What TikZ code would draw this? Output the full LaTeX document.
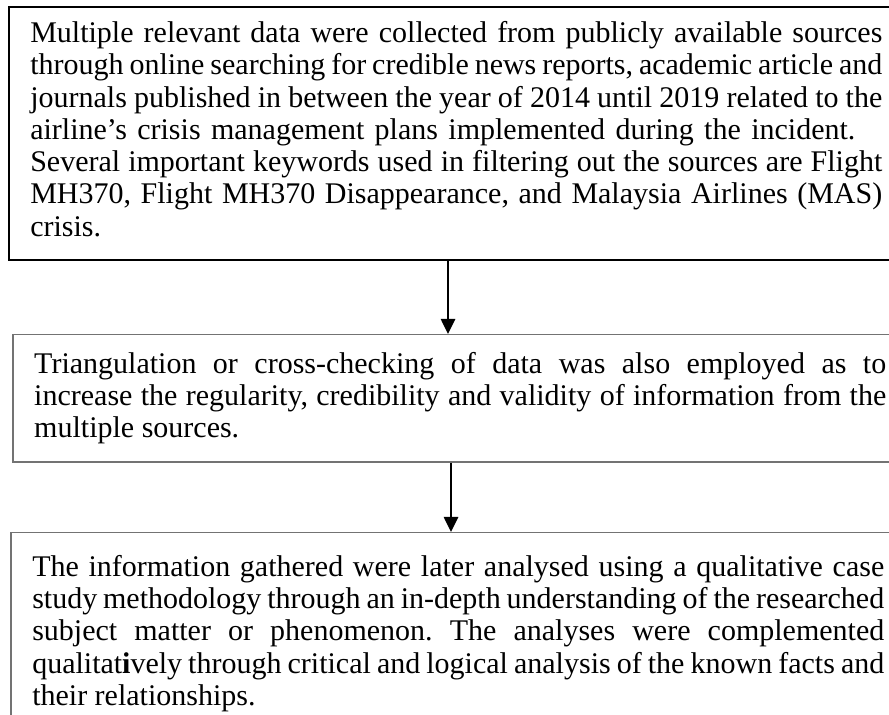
\documentclass[tikz,border=0pt]{standalone}
\usepackage{fontspec}
\setmainfont{Liberation Serif}
\usetikzlibrary{positioning,arrows.meta}
\setlength{\parindent}{0pt}
\frenchspacing
\definecolor{boxgray}{gray}{0.45}
\newcommand{\boxfoot}[1]{\rule[-#1]{0pt}{#1}}
\tikzset{stepbox/.style={rectangle, draw, text width=426pt, align=justify, inner xsep=10.75pt, anchor=north west, font=\fontsize{15}{16.15}\selectfont
}}
\tikzset{steparrow/.style={-{Triangle[width=7pt,length=7.5pt]}, line width=1.3pt
}}

\begin{document}
\begin{tikzpicture}
	\useasboundingbox (0,0) rectangle (444.5pt,-357.5pt);
	\clip (0,0) rectangle (444.5pt,-357.5pt);
	% data collection
	\node[stepbox, draw=black, line width=0.8pt, inner ysep=7.25pt] (collect) at (4pt,-3pt) {Multiple relevant data were collected from publicly available sources\linebreak through online searching for credible news reports, academic article and\linebreak journals published in between the year of 2014 until 2019 related to the\linebreak airline’s crisis management plans implemented during the incident.\hspace*{13.5pt}\linebreak Several important keywords used in filtering out the sources are Flight\linebreak MH370, Flight MH370 Disappearance, and Malaysia Airlines (MAS)\linebreak crisis.\boxfoot{4.5pt}};
	% triangulation
	\node[stepbox, draw=boxgray, line width=0.75pt, inner ysep=8.75pt] (check) at (6pt,-167pt) {Triangulation or cross-checking of data was also employed as to\linebreak increase the regularity, credibility and validity of information from the\linebreak multiple sources.};
	% analysis
	\node[stepbox, draw=boxgray, line width=0.75pt, inner ysep=11.25pt] (analyse) at (5pt,-266pt) {The information gathered were later analysed using a qualitative case\linebreak study methodology through an in-depth understanding of the researched\linebreak subject matter or phenomenon. The analyses were complemented\linebreak qualitat\textbf{i}vely through critical and logical analysis of the known facts and\linebreak their relationships.};
	\coordinate (arrowA) at (224pt,0);
	\coordinate (arrowB) at (225.5pt,0);
	\draw[steparrow] (collect.south -| arrowA) -- (check.north -| arrowA);
	\draw[steparrow] (check.south -| arrowB) -- (analyse.north -| arrowB);
\end{tikzpicture}
\end{document}
